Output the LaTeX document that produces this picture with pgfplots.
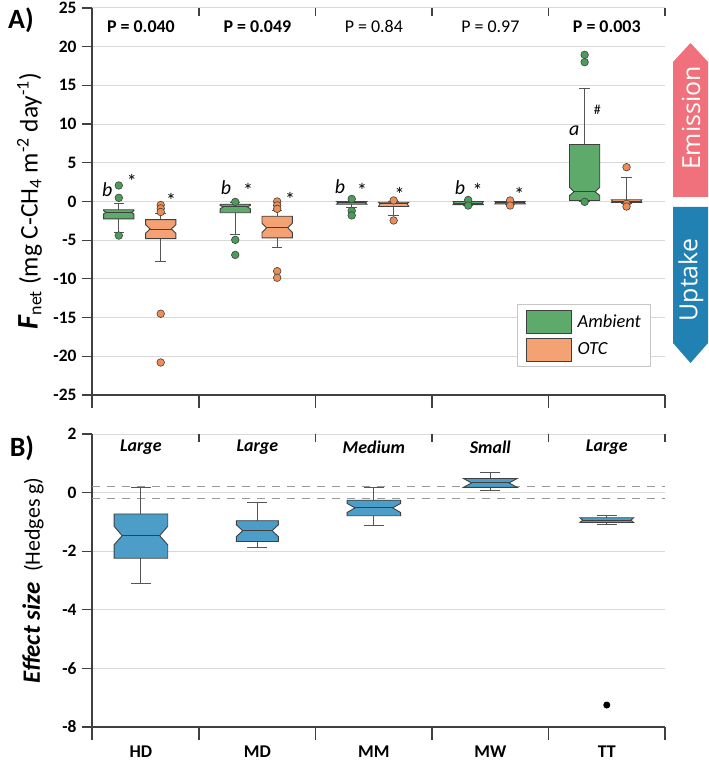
\documentclass[border=0pt]{standalone}
\usepackage{pgfplots}
\pgfplotsset{compat=1.18}
\usepgfplotslibrary{statistics}
\usepackage{fontspec}
\setmainfont{Carlito}
\newfontfamily\osans{Open Sans}

\definecolor{ambfill}{HTML}{5DAA6B}
\definecolor{ambdot}{HTML}{4C9D5B}
\definecolor{otcfill}{HTML}{F4A274}
\definecolor{otcdot}{HTML}{EE8D55}
\definecolor{esfill}{HTML}{4C9DC8}
\definecolor{edge}{HTML}{404040}
\definecolor{whisk}{HTML}{555555}
\definecolor{gridc}{HTML}{D9D9D9}
\definecolor{emis}{HTML}{F0707B}
\definecolor{upt}{HTML}{2181B3}

% extra keys for notched boxes
\pgfkeys{
  /pgfplots/boxplot/notch lo/.initial=0,
  /pgfplots/boxplot/notch hi/.initial=0,
  /pgfplots/boxplot/notch depth/.initial=0.15,
}
\pgfplotsset{
  notched/.style={
    boxplot/draw/box/.code={%
      \pgfmathsetmacro\nd{\pgfkeysvalueof{/pgfplots/boxplot/notch depth}}%
      \pgfmathsetmacro\ndd{1-\nd}%
      \draw[/pgfplots/boxplot/every box/.try]
        (boxplot box cs:\pgfplotsboxplotvalue{lower quartile},0) --
        (boxplot box cs:\pgfplotsboxplotvalue{notch lo},0) --
        (boxplot box cs:\pgfplotsboxplotvalue{median},\nd) --
        (boxplot box cs:\pgfplotsboxplotvalue{notch hi},0) --
        (boxplot box cs:\pgfplotsboxplotvalue{upper quartile},0) --
        (boxplot box cs:\pgfplotsboxplotvalue{upper quartile},1) --
        (boxplot box cs:\pgfplotsboxplotvalue{notch hi},1) --
        (boxplot box cs:\pgfplotsboxplotvalue{median},\ndd) --
        (boxplot box cs:\pgfplotsboxplotvalue{notch lo},1) --
        (boxplot box cs:\pgfplotsboxplotvalue{lower quartile},1) -- cycle;
    },
    boxplot/draw/median/.code={%
      \pgfmathsetmacro\nd{\pgfkeysvalueof{/pgfplots/boxplot/notch depth}}%
      \pgfmathsetmacro\ndd{1-\nd}%
      \draw[/pgfplots/boxplot/every median/.try]
        (boxplot box cs:\pgfplotsboxplotvalue{median},\nd) --
        (boxplot box cs:\pgfplotsboxplotvalue{median},\ndd);
    },
  },
  panel/.style={
    scale only axis,
    xmin=-0.42, xmax=4.5,
    axis y line=left, axis x line=bottom,
    axis line style={edge, line width=1.5bp, -},
    ymajorgrids, grid style={gridc, line width=1bp},
    tick align=outside, major tick length=10bp,
    ytick style={edge, line width=1.2bp},
    xtick style={draw=none},
    yticklabel style={font=\bfseries\fontsize{17.5}{19}\selectfont, xshift=-2bp},
    clip=false, notched, boxplot/draw direction=y,
  },
  amb/.style={forget plot, draw=edge, line width=0.9bp,
    boxplot/box extend=0.26, boxplot/whisker extend=0.09,
    boxplot/every box/.style={fill=ambfill},
    boxplot/every whisker/.style={whisk},
    mark=*, mark size=3.8bp, mark options={fill=ambdot, draw=edge, line width=0.6bp, solid}},
  otc/.style={forget plot, draw=edge, line width=0.9bp,
    boxplot/box extend=0.26, boxplot/whisker extend=0.09,
    boxplot/every box/.style={fill=otcfill},
    boxplot/every whisker/.style={whisk},
    mark=*, mark size=3.8bp, mark options={fill=otcdot, draw=edge, line width=0.6bp, solid}},
  es/.style={forget plot, draw=edge, line width=0.9bp,
    boxplot/box extend=0.46, boxplot/whisker extend=0.17,
    boxplot/every box/.style={fill=esfill},
    boxplot/every whisker/.style={whisk},
    mark=*, mark size=3bp, mark options={fill=black, draw=black, solid}},
}

\begin{document}
\begin{tikzpicture}
\useasboundingbox (-92bp,-371bp) rectangle (617bp,395bp);

% ---------- A) net CH4 flux ----------
\begin{axis}[panel, name=top,
  at={(0,0)}, anchor=south west, width=573bp, height=387bp,
  ymin=-25, ymax=25,
  ytick={-25,-20,-15,-10,-5,0,5,10,15,20,25},
  yticklabels={-25,-20,-15,-10,-5,0,5,10,15,20,25},
  xtick=\empty,
  ylabel={{\fontsize{30}{32}\selectfont\textbf{\textit{F}}}\textsubscript{\fontsize{18}{18}\selectfont net} (mg C-CH\textsubscript{4} m\textsuperscript{-2} day\textsuperscript{-1})},
  ylabel style={font=\fontsize{25.5}{27}\selectfont, at={(axis description cs:-0.109,0.5)}, anchor=center},
  legend style={at={(rel axis cs:0.742,0.235)}, anchor=north west,
    draw=gray!45, line width=1bp, fill=white,
    inner xsep=8bp, inner ysep=5bp, row sep=4bp, column sep=4bp,
    font=\itshape\fontsize{18.5}{20}\selectfont, cells={anchor=west}},
  legend image code/.code={\draw[#1, line width=1bp] (0bp,-11.5bp) rectangle (45bp,11.5bp);},
]
% HD
\addplot[amb, boxplot prepared={draw position=-0.19,
  lower whisker=-3.96, lower quartile=-2.24, median=-1.40,
  upper quartile=-1.07, upper whisker=-0.30,
  notch lo=-1.6, notch hi=-1.2, notch depth=0.08}]
  coordinates {(0,2.07) (0,0.48) (0,-4.4)};
\addplot[otc, boxplot prepared={draw position=0.17,
  lower whisker=-7.8, lower quartile=-4.8, median=-3.55,
  upper quartile=-2.35, upper whisker=-1.6,
  notch lo=-4.1, notch hi=-3.0}]
  coordinates {(0,-0.45) (0,-0.9) (0,-1.35) (0,-14.5) (0,-20.8)};
% MD
\addplot[amb, boxplot prepared={draw position=0.81,
  lower whisker=-4.2, lower quartile=-1.45, median=-0.7,
  upper quartile=-0.35, upper whisker=-0.1,
  notch lo=-0.95, notch hi=-0.5, notch depth=0.1}]
  coordinates {(0,-0.05) (0,-4.95) (0,-6.9)};
\addplot[otc, boxplot prepared={draw position=1.17,
  lower whisker=-5.9, lower quartile=-4.7, median=-3.4,
  upper quartile=-1.9, upper whisker=-1.15,
  notch lo=-4.0, notch hi=-2.8}]
  coordinates {(0,0.0) (0,-0.5) (0,-0.95) (0,-9.0) (0,-9.85)};
% MM
\addplot[amb, boxplot prepared={draw position=1.81,
  lower whisker=-0.73, lower quartile=-0.35, median=-0.15,
  upper quartile=0.0, upper whisker=0.05,
  notch lo=-0.35, notch hi=0.0, notch depth=0.05}]
  coordinates {(0,0.33) (0,-1.2) (0,-1.8)};
\addplot[otc, boxplot prepared={draw position=2.17,
  lower whisker=-1.8, lower quartile=-0.65, median=-0.3,
  upper quartile=-0.1, upper whisker=-0.05,
  notch lo=-0.65, notch hi=-0.1, notch depth=0.05}]
  coordinates {(0,0.13) (0,-2.45)};
% MW
\addplot[amb, boxplot prepared={draw position=2.81,
  lower whisker=-0.45, lower quartile=-0.4, median=-0.2,
  upper quartile=0.0, upper whisker=0.05,
  notch lo=-0.4, notch hi=0.0, notch depth=0.03}]
  coordinates {(0,0.2) (0,-0.52)};
\addplot[otc, boxplot prepared={draw position=3.17,
  lower whisker=-0.35, lower quartile=-0.3, median=-0.15,
  upper quartile=0.0, upper whisker=0.05,
  notch lo=-0.3, notch hi=0.0, notch depth=0.03}]
  coordinates {(0,0.13) (0,-0.52)};
% TT
\addplot[amb, boxplot prepared={draw position=3.81,
  lower whisker=0.05, lower quartile=0.13, median=1.25,
  upper quartile=7.36, upper whisker=14.56,
  notch lo=0.78, notch hi=1.85, notch depth=0.15}]
  coordinates {(0,18.95) (0,18.0) (0,-0.05)};
\addplot[otc, boxplot prepared={draw position=4.17,
  lower whisker=-0.2, lower quartile=-0.13, median=0.05,
  upper quartile=0.22, upper whisker=3.14,
  notch lo=-0.13, notch hi=0.22, notch depth=0.03}]
  coordinates {(0,4.43) (0,-0.3) (0,-0.65)};

\addlegendimage{fill=ambfill, draw=edge}
\addlegendentry{Ambient}
\addlegendimage{fill=otcfill, draw=edge}
\addlegendentry{OTC}

% category dividers
\pgfplotsinvokeforeach{0.5,1.5,2.5,3.5,4.5}{
  \draw[edge, line width=1.5bp] (axis cs:#1,25) -- ([yshift=-8bp]axis cs:#1,25);
}
\pgfplotsinvokeforeach{-0.42,0.5,1.5,2.5,3.5,4.5}{
  \draw[edge, line width=1.5bp] (axis cs:#1,-25) -- ([yshift=-13bp]axis cs:#1,-25);
}

% test results
\begin{scope}[font=\fontsize{18}{20}\selectfont]
\node at (axis cs:0,22.6) {\bfseries P = 0.040};
\node at (axis cs:1,22.6) {\bfseries P = 0.049};
\node at (axis cs:2,22.6) {P = 0.84};
\node at (axis cs:3,22.6) {P = 0.97};
\node at (axis cs:4,22.6) {\bfseries P = 0.003};
\end{scope}
\begin{scope}[font=\itshape\fontsize{20}{22}\selectfont]
\node at (axis cs:-0.29,1.5) {b};
\node at (axis cs:0.73,1.85) {b};
\node at (axis cs:1.71,1.95) {b};
\node at (axis cs:2.74,1.75) {b};
\node at (axis cs:3.72,9.2) {a};
\end{scope}
\begin{scope}[font=\fontsize{20}{22}\selectfont]
\node at (axis cs:-0.077,2.6) {*};
\node at (axis cs:0.26,0.2) {*};
\node at (axis cs:0.92,1.45) {*};
\node at (axis cs:1.28,0.3) {*};
\node at (axis cs:1.9,1.45) {*};
\node at (axis cs:2.22,0.85) {*};
\node at (axis cs:2.89,1.45) {*};
\node at (axis cs:3.25,0.85) {*};
\node[font=\fontsize{14}{16}\selectfont] at (axis cs:3.92,11.9) {\#};
\end{scope}
\end{axis}

% ---------- B) effect size ----------
\begin{axis}[panel, name=bot,
  at={(0,-39bp)}, anchor=north west, width=573bp, height=293bp,
  ymin=-8, ymax=2,
  ytick={-8,-6,-4,-2,0,2},
  yticklabels={-8,-6,-4,-2,0,2},
  xtick={0,1,2,3,4}, xticklabels={HD,MD,MM,MW,TT},
  major x tick style={draw=none},
  xticklabel style={font=\bfseries\fontsize{18}{20}\selectfont, yshift=-5bp},
  ylabel={{\fontsize{25}{27}\selectfont\textbf{\textit{Effect size}}}\enspace(Hedges g)},
  ylabel style={font=\fontsize{22}{24}\selectfont, at={(axis description cs:-0.103,0.5)}, anchor=center},
]
\addplot[forget plot, gray!80, line width=1bp, dash pattern=on 8bp off 7bp]
  coordinates {(-0.42,0.2) (4.5,0.2)};
\addplot[forget plot, gray!80, line width=1bp, dash pattern=on 8bp off 7bp]
  coordinates {(-0.42,-0.2) (4.5,-0.2)};

\addplot[es, boxplot prepared={draw position=0,
  lower whisker=-3.1, lower quartile=-2.24, median=-1.47,
  upper quartile=-0.73, upper whisker=0.19,
  notch lo=-1.78, notch hi=-1.15}]
  coordinates {};
\addplot[es, boxplot/box extend=0.36, boxplot prepared={draw position=1,
  lower whisker=-1.87, lower quartile=-1.67, median=-1.3,
  upper quartile=-0.96, upper whisker=-0.32,
  notch lo=-1.5, notch hi=-1.1}]
  coordinates {};
\addplot[es, boxplot prepared={draw position=2,
  lower whisker=-1.12, lower quartile=-0.79, median=-0.52,
  upper quartile=-0.26, upper whisker=0.16,
  notch lo=-0.68, notch hi=-0.37}]
  coordinates {};
\addplot[es, boxplot prepared={draw position=3,
  lower whisker=0.08, lower quartile=0.18, median=0.33,
  upper quartile=0.48, upper whisker=0.68,
  notch lo=0.18, notch hi=0.48}]
  coordinates {};
\addplot[es, boxplot prepared={draw position=4,
  lower whisker=-1.08, lower quartile=-1.02, median=-0.94,
  upper quartile=-0.86, upper whisker=-0.79,
  notch lo=-1.02, notch hi=-0.86, notch depth=0.05}]
  coordinates {(0,-7.25)};

\pgfplotsinvokeforeach{0.5,1.5,2.5,3.5,4.5}{
  \draw[edge, line width=1.5bp] (axis cs:#1,2) -- ([yshift=-8bp]axis cs:#1,2);
}
\pgfplotsinvokeforeach{-0.42,0.5,1.5,2.5,3.5,4.5}{
  \draw[edge, line width=1.5bp] (axis cs:#1,-8) -- ([yshift=-13bp]axis cs:#1,-8);
}
\begin{scope}[font=\bfseries\itshape\fontsize{18}{20}\selectfont]
\node at (axis cs:0,1.54) {Large};
\node at (axis cs:1,1.54) {Large};
\node at (axis cs:2,1.54) {Medium};
\node at (axis cs:3,1.54) {Small};
\node at (axis cs:4,1.54) {Large};
\end{scope}
\end{axis}

% panel letters
\node[font=\bfseries\fontsize{28}{30}\selectfont] at (-71bp,375bp) {A)};
\node[font=\bfseries\fontsize{28}{30}\selectfont] at (-70bp,-53bp) {B)};

% flux direction arrows
\fill[emis] (581bp,198bp) -- (581bp,333bp) -- (598.5bp,352bp) -- (616bp,333bp) -- (616bp,198bp) -- cycle;
\node[rotate=90, white, font=\osans\fontsize{25}{27}\selectfont] at (599bp,277bp) {Emission};
\fill[upt] (581bp,188bp) -- (581bp,52bp) -- (598.5bp,32bp) -- (616bp,52bp) -- (616bp,188bp) -- cycle;
\node[rotate=90, white, font=\osans\fontsize{25}{27}\selectfont] at (599bp,115bp) {Uptake};
\end{tikzpicture}
\end{document}
